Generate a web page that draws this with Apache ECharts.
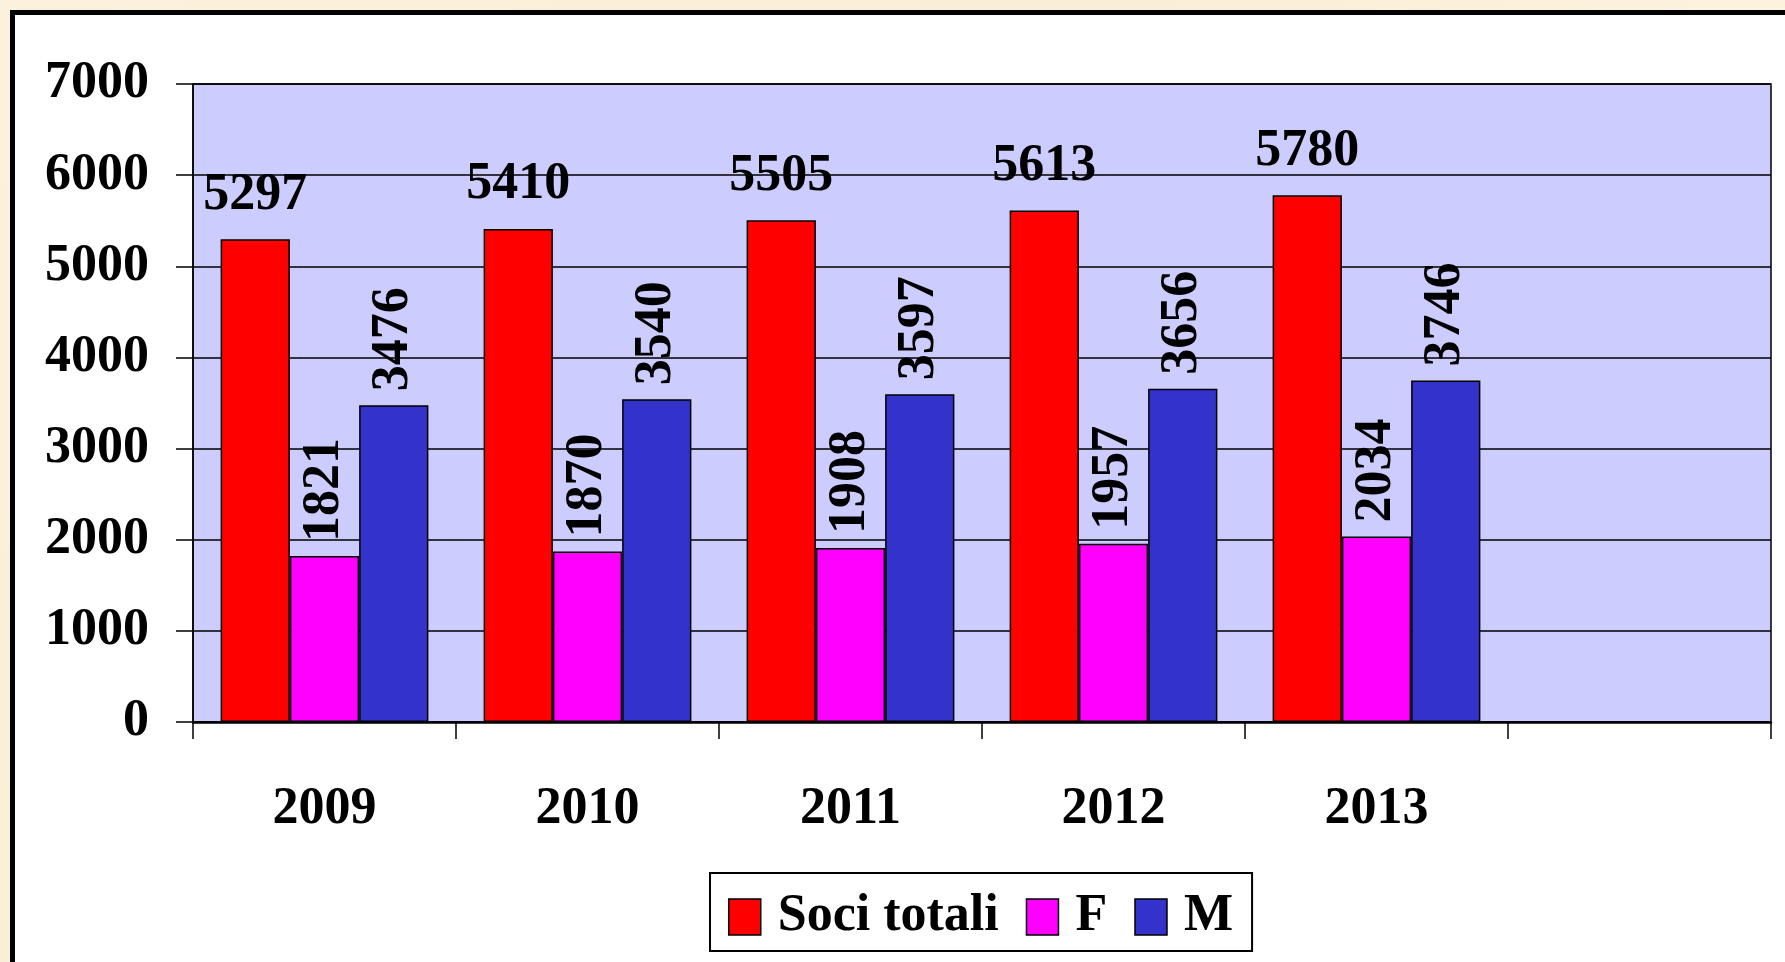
<!DOCTYPE html>
<html>
<head>
<meta charset="utf-8">
<script src="https://cdn.jsdelivr.net/npm/echarts@6/dist/echarts.min.js"></script>
<style>
  html, body { margin: 0; padding: 0; width: 1785px; height: 962px; overflow: hidden;
    background: linear-gradient(135deg, #fcf1dc 0%, #fbeed6 40%, #fdf3df 70%, #fbecd2 100%); }
  #frame { position: absolute; left: 10px; top: 10px; width: 1800px; height: 1000px;
    background: #ffffff; border-left: 5px solid #000; border-top: 5px solid #000; }
  #chart { position: absolute; left: 0; top: 0; width: 1785px; height: 962px; }
</style>
</head>
<body>
<div id="frame"></div>
<div id="chart"></div>
<script>
const categories = ['2009', '2010', '2011', '2012', '2013', ''];
const sociTotali = [5297, 5410, 5505, 5613, 5780];
const femmine = [1821, 1870, 1908, 1957, 2034];
const maschi = [3476, 3540, 3597, 3656, 3746];
const seriesNames = ['Soci totali', 'F', 'M'];

const FONT = 'Liberation Serif';
const chart = echarts.init(document.getElementById('chart'), null, { renderer: 'canvas' });

const baseLabel = {
  show: true,
  color: '#000',
  fontFamily: FONT,
  fontWeight: 'bold',
  fontSize: 52
};
const rotLabel = Object.assign({}, baseLabel, {
  position: 'top', rotate: 90, align: 'left', verticalAlign: 'middle', distance: 14
});

chart.setOption({
  backgroundColor: 'transparent',
  animation: false,
  grid: {
    left: 193, right: 14, top: 84, bottom: 240,
    show: true, backgroundColor: '#CCCCFF', borderColor: '#000', borderWidth: 1.5
  },
  legend: {
    data: seriesNames,
    left: 710, top: 873,
    orient: 'horizontal',
    itemWidth: 32, itemHeight: 36, itemGap: 27,
    padding: [18, 19, 8, 18],
    borderColor: '#000', borderWidth: 2, backgroundColor: '#fff',
    icon: 'rect',
    itemStyle: { borderColor: '#000', borderWidth: 1.5 },
    textStyle: { fontFamily: FONT, fontWeight: 'bold', fontSize: 52, color: '#000', padding: [4, 0, 0, 12] }
  },
  xAxis: {
    type: 'category',
    data: categories,
    axisLine: { lineStyle: { color: '#000', width: 2.5 } },
    axisTick: { show: true, length: 17, lineStyle: { color: '#000', width: 1.5 } },
    axisLabel: { fontFamily: FONT, fontWeight: 'bold', fontSize: 52, color: '#000', margin: 62 }
  },
  yAxis: {
    type: 'value',
    min: 0, max: 7000, interval: 1000,
    axisLine: { show: true, lineStyle: { color: '#000', width: 1.5 } },
    axisTick: { show: true, length: 17, lineStyle: { color: '#000', width: 1.5 } },
    splitLine: { show: true, lineStyle: { color: '#000', width: 1.5 } },
    axisLabel: { fontFamily: FONT, fontWeight: 'bold', fontSize: 52, color: '#000', margin: 44,
      padding: [8, 0, 0, 0],
      formatter: function (v) { return String(v); } }
  },
  series: [
    {
      name: seriesNames[0], type: 'bar', data: sociTotali,
      barGap: '0%', barCategoryGap: '21%',
      itemStyle: { color: '#FF0000', borderColor: '#000', borderWidth: 1.5 },
      label: Object.assign({}, baseLabel, { position: 'top', distance: 18 })
    },
    {
      name: seriesNames[1], type: 'bar', data: femmine,
      barGap: '0%', barCategoryGap: '21%',
      itemStyle: { color: '#FF00FF', borderColor: '#000', borderWidth: 1.5 },
      label: rotLabel
    },
    {
      name: seriesNames[2], type: 'bar', data: maschi,
      barGap: '0%', barCategoryGap: '21%',
      itemStyle: { color: '#3333CC', borderColor: '#000', borderWidth: 1.5 },
      label: rotLabel
    }
  ]
});
</script>
</body>
</html>
